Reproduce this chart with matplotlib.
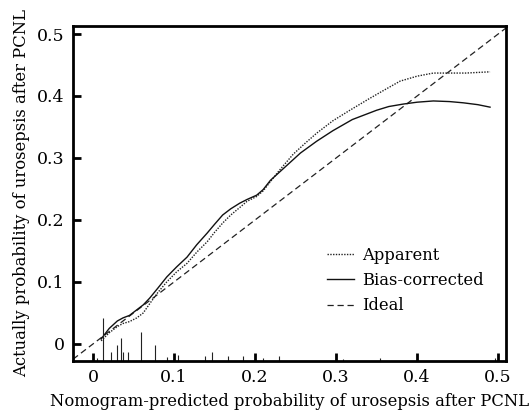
import numpy as np
import matplotlib.pyplot as plt

# calibration curves
bias_x = [0.01, 0.02, 0.03, 0.037, 0.045, 0.054, 0.062, 0.07, 0.08, 0.091, 0.103,
          0.116, 0.128, 0.141, 0.15, 0.16, 0.17, 0.181, 0.19, 0.202, 0.21, 0.219,
          0.235, 0.256, 0.276, 0.296, 0.32, 0.35, 0.365, 0.383, 0.40, 0.42, 0.44,
          0.457, 0.475, 0.49]
bias_y = [0.008, 0.025, 0.037, 0.042, 0.046, 0.055, 0.063, 0.074, 0.09, 0.108, 0.124,
          0.14, 0.16, 0.179, 0.193, 0.208, 0.218, 0.227, 0.233, 0.240, 0.249, 0.264,
          0.283, 0.308, 0.327, 0.344, 0.362, 0.377, 0.383, 0.387, 0.39, 0.392, 0.391,
          0.389, 0.386, 0.382]

app_x = [0.01, 0.02, 0.03, 0.037, 0.045, 0.054, 0.062, 0.07, 0.08, 0.091, 0.103,
         0.116, 0.128, 0.141, 0.15, 0.16, 0.17, 0.181, 0.19, 0.202, 0.21, 0.219,
         0.23, 0.247, 0.262, 0.276, 0.296, 0.317, 0.34, 0.36, 0.379, 0.40, 0.42,
         0.44, 0.46, 0.49]
app_y = [0.005, 0.018, 0.028, 0.033, 0.036, 0.042, 0.05, 0.065, 0.083, 0.1, 0.116,
         0.13, 0.148, 0.165, 0.18, 0.195, 0.208, 0.22, 0.23, 0.238, 0.247, 0.262,
         0.28, 0.306, 0.324, 0.34, 0.36, 0.377, 0.395, 0.41, 0.424, 0.432, 0.437,
         0.437, 0.437, 0.439]

# rug of predicted probabilities (position, spike height)
rug_x = [0.005, 0.0127, 0.022, 0.029, 0.034, 0.037, 0.043, 0.059, 0.076, 0.091,
         0.105, 0.138, 0.147, 0.167, 0.185, 0.21, 0.23, 0.309, 0.354, 0.496]
rug_h = [0.005, 0.069, 0.015, 0.026, 0.037, 0.015, 0.015, 0.047, 0.026, 0.006,
         0.01, 0.008, 0.015, 0.008, 0.008, 0.005, 0.008, 0.003, 0.005, 0.005]

ticks = [0, 0.1, 0.2, 0.3, 0.4, 0.5]
tick_labels = ["0", "0.1", "0.2", "0.3", "0.4", "0.5"]

plt.rcParams['font.family'] = ['DejaVu Serif']

fig = plt.figure(figsize=(5.29, 4.12), dpi=100)
ax = fig.add_axes([0.138, 0.124, 0.819, 0.813])

xlo, xhi = -0.0247, 0.51
ylo, yhi = -0.0274, 0.513
ax.plot([xlo, xhi], [xlo, xhi], color='#222222', lw=0.9, ls=(0, (5, 3)), label='Ideal')
ax.plot(app_x, app_y, color='#222222', lw=1.0, ls=(0, (1, 1)), label='Apparent')
ax.plot(bias_x, bias_y, color='#111111', lw=1.0, ls='-', label='Bias-corrected')
ax.vlines(rug_x, ylo, [ylo + h for h in rug_h], color='#222222', lw=0.8)

ax.set_xlim(xlo, xhi)
ax.set_ylim(ylo, yhi)
ax.set_xticks(ticks)
ax.set_xticklabels(tick_labels)
ax.set_yticks(ticks)
ax.set_yticklabels(tick_labels)
ax.tick_params(direction='in', length=6, width=2, labelsize=12.5, pad=6)
for s in ax.spines.values():
    s.set_linewidth(2)

ax.set_xlabel('Nomogram-predicted probability of urosepsis after PCNL', fontsize=11.8, labelpad=5)
ax.set_ylabel('Actually probability of urosepsis after PCNL', fontsize=11.8, labelpad=5)

h, l = ax.get_legend_handles_labels()
order = [1, 2, 0]
ax.legend([h[i] for i in order], [l[i] for i in order], loc='upper left',
          bbox_to_anchor=(0.587, 0.34), borderaxespad=0, borderpad=0,
          frameon=False, fontsize=11.8,
          handlelength=1.6, handletextpad=0.5, labelspacing=0.5)

fig.savefig('out.png', dpi=100)
